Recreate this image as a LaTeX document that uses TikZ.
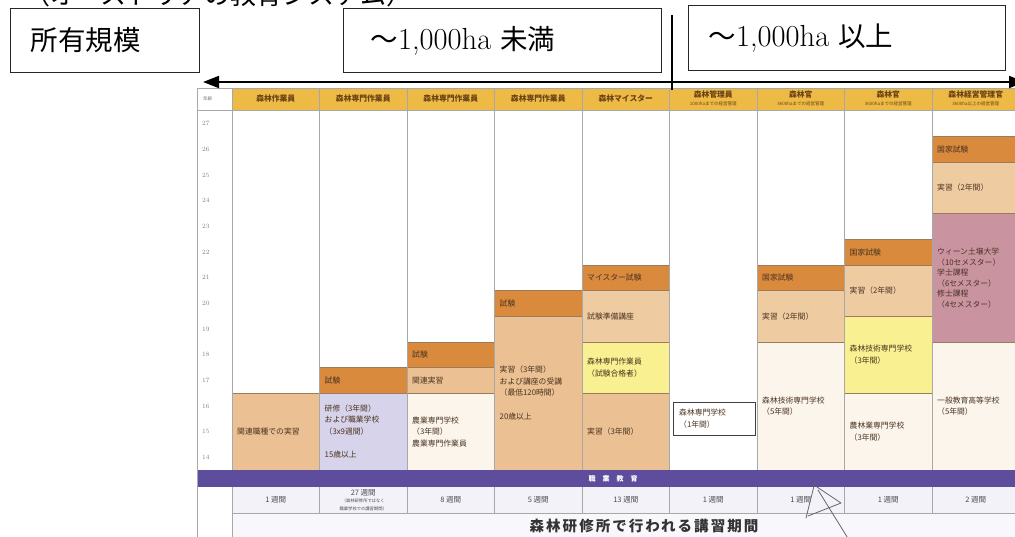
\documentclass[tikz,border=0pt]{standalone}
\usepackage{fontspec}
\newfontfamily\jp{Noto Sans CJK JP}
\usetikzlibrary{arrows.meta}
\definecolor{hdr}{HTML}{EDBB45}
\definecolor{exam}{HTML}{D98A3D}
\definecolor{tanc}{HTML}{EBC092}
\definecolor{tanl}{HTML}{EFCBA2}
\definecolor{lav}{HTML}{D6D3EA}
\definecolor{yel}{HTML}{F8F091}
\definecolor{mauve}{HTML}{C9939F}
\definecolor{cream}{HTML}{FCF5EC}
\definecolor{band}{HTML}{5E4C9C}
\definecolor{wk}{HTML}{F3F2F9}
\definecolor{edge}{HTML}{9C7B5C}
\definecolor{gridc}{HTML}{A8A8A8}
\definecolor{txt}{HTML}{4A3320}
\definecolor{hdrtxt}{HTML}{6B4216}
\newcommand\cellfill[4]{%
  \pgfmathsetmacro\xa{232+87.5*(#1-1)}%
  \pgfmathsetmacro\xb{\xa+87.5}%
  \pgfmathsetmacro\ya{111+25.65*#2}%
  \pgfmathsetmacro\yb{111+25.65*#3}%
  \filldraw[fill=#4, draw=edge, line width=0.6pt] (\xa,\ya) rectangle (\xb,\yb);}
\newcommand\celltext[5]{%
  \pgfmathsetmacro\xa{232+87.5*(#1-1)+5}%
  \pgfmathsetmacro\ym{111+25.65*(#2+#3)/2}%
  \node[celltxt] (#4) at (\xa,\ym) {#5};}
\newcommand\latbig[1]{{\fontsize{30.5}{30}\selectfont #1}}
\begin{document}
\begin{tikzpicture}[x=1pt,y=-1pt,
  box/.style={draw=black!85, line width=1.1pt, anchor=north west, align=left,
    font=\fontsize{27.5}{30}\selectfont},
  celltxt/.style={anchor=west, align=left, inner sep=0, text=txt,
    font=\jp\fontsize{7.8}{11.5}\selectfont},
  hdrlbl/.style={align=center, inner sep=0, text=hdrtxt,
    font=\jp\bfseries\fontsize{7.8}{8}\selectfont},
  agelbl/.style={anchor=west, inner sep=0, text=black!50, font=\fontsize{6.5}{6.5}\selectfont},
  wklbl/.style={align=center, inner sep=0, text=black!70, font=\jp\fontsize{7.5}{9}\selectfont},
  gridline/.style={draw=gridc, line width=0.6pt},
  scrib/.style={draw=black!60, line width=0.8pt, line cap=round, line join=round},
]
\useasboundingbox (0,0) rectangle (1015,536);
\clip (0,0) rectangle (1015,536);
\fill[white] (0,0) rectangle (1015,536);

% title (cut at top, as in the reference)
\node[anchor=base west, inner sep=0, font=\jp\fontsize{26}{26}\selectfont] (title) at (24,4) {（オーストリアの教育システム）};

% top boxes
\node[box, minimum width=189pt, minimum height=64pt, inner xsep=20pt, text width=149pt] (scale) at (10,8) {\jp 所有規模};
\node[box, minimum width=318pt, minimum height=64pt, inner xsep=27pt, text width=264pt] (under) at (343,8) {{\jp ～}\latbig{1,000ha} {\jp 未満}};
\node[box, minimum width=317pt, minimum height=65pt, inner xsep=20pt, text width=277pt] (over) at (688,5) {{\jp ～}\latbig{1,000ha} {\jp 以上}};

% table body background
\fill[white] (232,110) rectangle (1019.5,470.1);

% blocks
\cellfill{1}{11}{14}{tanc}
\cellfill{2}{10}{11}{exam}
\cellfill{2}{11}{14}{lav}
\cellfill{3}{9}{10}{exam}
\cellfill{3}{10}{11}{tanc}
\cellfill{3}{11}{14}{cream}
\cellfill{4}{7}{8}{exam}
\cellfill{4}{8}{14}{tanc}
\cellfill{5}{6}{7}{exam}
\cellfill{5}{7}{9}{tanl}
\cellfill{5}{9}{11}{yel}
\cellfill{5}{11}{14}{tanc}
\cellfill{7}{6}{7}{exam}
\cellfill{7}{7}{9}{tanl}
\cellfill{7}{9}{14}{cream}
\cellfill{8}{5}{6}{exam}
\cellfill{8}{6}{8}{tanl}
\cellfill{8}{8}{11}{yel}
\cellfill{8}{11}{14}{cream}
\cellfill{9}{1}{2}{exam}
\cellfill{9}{2}{4}{tanl}
\cellfill{9}{4}{9}{mauve}
\cellfill{9}{9}{14}{cream}

% header row
\fill[hdr] (232,88) rectangle (1019.5,110);
\draw[gridline] (197,88) -- (1019.5,88);
\draw[gridline] (197,110) -- (1019.5,110);

% purple band, weeks row, bottom row
\fill[band] (197,470.1) rectangle (1019.5,487);
\fill[wk] (232,487) rectangle (1019.5,513);
\fill[wk!60] (232,513) rectangle (1019.5,540);
\draw[gridline] (232,513) -- (1019.5,513);
\draw[gridline] (197,540) -- (197,88);

% column lines
\foreach \i in {0,...,8} {
  \pgfmathsetmacro\xx{232+87.5*\i}
  \draw[gridline] (\xx,88) -- (\xx,470.1);
  \draw[gridline] (\xx,487) -- (\xx,513);
}
\draw[gridline] (232,513) -- (232,540);

% header labels
\node[anchor=west, inner sep=0, text=black!55, font=\jp\fontsize{4.5}{5}\selectfont] (agehdr) at (203,99) {年齢};
\node[hdrlbl] (h1) at (275.75,99) {森林作業員};
\node[hdrlbl] (h2) at (363.25,99) {森林専門作業員};
\node[hdrlbl] (h3) at (450.75,99) {森林専門作業員};
\node[hdrlbl] (h4) at (538.25,99) {森林専門作業員};
\node[hdrlbl] (h5) at (625.75,99) {森林マイスター};
\node[hdrlbl] (h6) at (713.25,98.5) {森林管理員\\[-0.5pt]{\mdseries\fontsize{4.5}{5}\selectfont 1000haまでの経営管理}};
\node[hdrlbl] (h7) at (800.75,98.5) {森林官\\[-0.5pt]{\mdseries\fontsize{4.5}{5}\selectfont 3600haまでの経営管理}};
\node[hdrlbl] (h8) at (888.25,98.5) {森林官\\[-0.5pt]{\mdseries\fontsize{4.5}{5}\selectfont 3600haまでの経営管理}};
\node[hdrlbl] (h9) at (975.75,98.5) {森林経営管理官\\[-0.5pt]{\mdseries\fontsize{4.5}{5}\selectfont 3600ha以上の経営管理}};

% age labels
\foreach \a in {27,26,...,14} {
  \pgfmathsetmacro\yy{111+25.65*(27-\a+0.5)}
  \node[agelbl] (age\a) at (202,\yy) {\a};
}

% cell texts
\celltext{1}{11}{14}{t1}{関連職種での実習}
\celltext{2}{10}{11}{t2a}{試験}
\celltext{2}{11}{14}{t2b}{研修（3年間）\\および職業学校\\（3x9週間）\\[12pt]15歳以上}
\celltext{3}{9}{10}{t3a}{試験}
\celltext{3}{10}{11}{t3b}{関連実習}
\celltext{3}{11}{14}{t3c}{農業専門学校\\（3年間）\\農業専門作業員}
\celltext{4}{7}{8}{t4a}{試験}
\celltext{4}{8}{14}{t4b}{実習（3年間）\\および講座の受講\\（最低120時間）\\[12pt]20歳以上}
\celltext{5}{6}{7}{t5a}{マイスター試験}
\celltext{5}{7}{9}{t5b}{試験準備講座}
\celltext{5}{9}{11}{t5c}{森林専門作業員\\（試験合格者）}
\celltext{5}{11}{14}{t5d}{実習（3年間）}
\celltext{7}{6}{7}{t7a}{国家試験}
\celltext{7}{7}{9}{t7b}{実習（2年間）}
\celltext{7}{9}{14}{t7c}{森林技術専門学校\\（5年間）}
\celltext{8}{5}{6}{t8a}{国家試験}
\celltext{8}{6}{8}{t8b}{実習（2年間）}
\celltext{8}{8}{11}{t8c}{森林技術専門学校\\（3年間）}
\celltext{8}{11}{14}{t8d}{農林業専門学校\\（3年間）}
\celltext{9}{1}{2}{t9a}{国家試験}
\celltext{9}{2}{4}{t9b}{実習（2年間）}
\node[celltxt, font=\jp\fontsize{7.8}{10.5}\selectfont] (t9c) at (937,278) {ウィーン土壌大学\\（10セメスター）\\学士課程\\（6セメスター）\\修士課程\\（4セメスター）};
\celltext{9}{9}{14}{t9d}{一般教育高等学校\\（5年間）}

% small school box in column 6
\node[draw=black!75, line width=0.9pt, fill=white, anchor=north west, minimum width=82pt, minimum height=33pt, inner sep=0] (school) at (673,402) {};
\node[celltxt] (schooltxt) at (679,418.5) {森林専門学校\\（1年間）};

% band label
\node[inner sep=0, text=white, font=\jp\bfseries\fontsize{7}{7}\selectfont] (bandlbl) at (613,478.5) {職\hspace{7pt}業\hspace{7pt}教\hspace{7pt}育};

% weeks
\node[wklbl] (w1) at (275.75,500) {1 週間};
\node[wklbl] (w2) at (363.25,500) {27 週間\\[-1.5pt]{\fontsize{4.3}{6}\selectfont （森林研修所ではなく}\\[-1.5pt]{\fontsize{4.3}{6}\selectfont 職業学校での講習期間）}};
\node[wklbl] (w3) at (450.75,500) {8 週間};
\node[wklbl] (w4) at (538.25,500) {5 週間};
\node[wklbl] (w5) at (625.75,500) {13 週間};
\node[wklbl] (w6) at (713.25,500) {1 週間};
\node[wklbl] (w7) at (800.75,500) {1 週間};
\node[wklbl] (w8) at (888.25,500) {1 週間};
\node[wklbl] (w9) at (975.75,500) {2 週間};

% bottom label
\node[inner sep=0, text=black!80, font=\jp\bfseries\fontsize{14.5}{15}\selectfont\addfontfeature{LetterSpace=14}] (kosyu) at (644,526) {森林研修所で行われる講習期間};

% arrow and divider
\coordinate (aL) at (203,82);
\coordinate (aR) at (1025,82);
\draw[line width=1.8pt, {Triangle[length=16pt,width=12pt]}-{Triangle[length=16pt,width=12pt]}] (aL) -- (aR);
\coordinate (vT) at (672,15);
\coordinate (vB) at (672,90);
\draw[line width=1.5pt] (vT) -- (vB);

% pen scribble
\draw[scrib] (815,482) -- (806,518);
\draw[scrib] (817,487) -- (841,503) -- (808,516);
\draw[scrib] (818,490) -- (849,540);
\end{tikzpicture}
\end{document}
